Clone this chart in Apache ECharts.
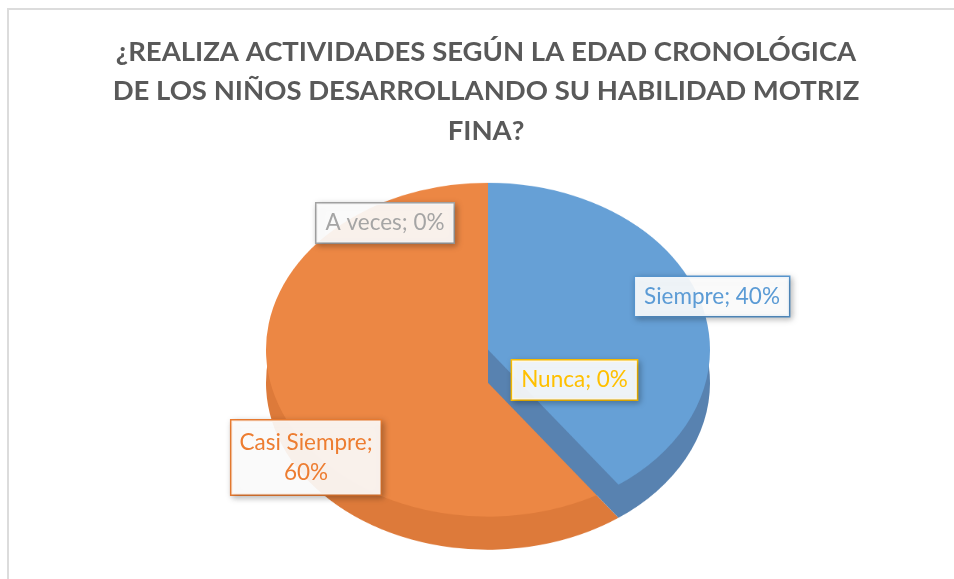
<!DOCTYPE html>
<html>
<head>
<meta charset="utf-8">
<script src="https://cdn.jsdelivr.net/npm/echarts@6/dist/echarts.min.js"></script>
<style>
  html, body { margin: 0; padding: 0; background: #ffffff; }
  #wrap { position: relative; width: 954px; height: 579px; overflow: hidden; background: #ffffff; }
  #pie { position: absolute; left: 0; top: 0; width: 954px; height: 770px; transform: scaleY(0.752); transform-origin: 0 0; }
  #overlay { position: absolute; left: 0; top: 0; width: 954px; height: 579px; }
</style>
</head>
<body>
<div id="wrap">
  <div id="pie"></div>
  <div id="overlay"></div>
</div>
<script>
// ---- data ----
const titleText = '¿REALIZA ACTIVIDADES SEGÚN LA EDAD CRONOLÓGICA\nDE LOS NIÑOS DESARROLLANDO SU HABILIDAD MOTRIZ\nFINA?';
const categories = ['Siempre', 'Casi Siempre', 'A veces', 'Nunca'];
const percentValues = [40, 60, 0, 0];

// ---- styles ----
const topColors = ['#66A0D6', '#EC8744', '#A5A5A5', '#FFC000'];
const sideColors = ['#5882B0', '#DD7A3A', '#8C8C8C', '#D9A300'];
const labelColors = ['#5B9BD5', '#ED7D31', '#A5A5A5', '#FFC000'];
const labelLines = [false, true, false, false];
const labelCenters = [[712, 296.5], [306, 457.5], [385, 223], [574.5, 380]];

const CX = 488, TOP_CY = 465, DEPTH = 44, R = 222;

function layer(cy, colors, visible, z) {
  return {
    type: 'pie',
    silent: true,
    z: z,
    center: [CX, cy],
    radius: R,
    startAngle: 90,
    clockwise: true,
    avoidLabelOverlap: false,
    label: { show: false },
    labelLine: { show: false },
    emphasis: { disabled: true },
    itemStyle: { borderWidth: 0 },
    data: categories.map((c, i) => ({
      name: c,
      value: percentValues[i],
      itemStyle: { color: visible.indexOf(i) >= 0 ? colors[i] : 'rgba(0,0,0,0)' }
    }))
  };
}

const pieChart = echarts.init(document.getElementById('pie'), null, { renderer: 'canvas' });
pieChart.setOption({
  animation: false,
  backgroundColor: 'transparent',
  series: [
    layer(TOP_CY + DEPTH, sideColors, [1, 2, 3], 1),
    layer(TOP_CY, topColors, [1, 2, 3], 2),
    layer(TOP_CY + DEPTH, sideColors, [0], 3),
    layer(TOP_CY, topColors, [0], 4)
  ]
});

const overlay = echarts.init(document.getElementById('overlay'), null, { renderer: 'canvas' });
const labelGraphics = categories.map((c, i) => ({
  type: 'text',
  x: labelCenters[i][0],
  y: labelCenters[i][1],
  silent: true,
  style: {
    text: c + ';' + (labelLines[i] ? '\n' : ' ') + percentValues[i] + '%',
    fill: labelColors[i],
    font: '22.5px Lato',
    lineHeight: labelLines[i] ? 30 : 23,
    align: 'center',
    verticalAlign: 'middle',
    backgroundColor: 'rgba(255,255,255,0.9)',
    borderColor: labelColors[i],
    borderWidth: 1.5,
    padding: labelLines[i] ? [7, 8] : [8, 9],
    shadowBlur: 6,
    shadowColor: 'rgba(0,0,0,0.25)',
    shadowOffsetX: 2,
    shadowOffsetY: 2
  }
}));

overlay.setOption({
  animation: false,
  backgroundColor: 'transparent',
  title: {
    text: titleText,
    left: 481,
    top: 27,
    textAlign: 'center',
    textStyle: {
      fontFamily: 'Lato',
      fontWeight: 'bold',
      fontSize: 27.5,
      lineHeight: 39.5,
      color: '#595959'
    }
  },
  graphic: [
    {
      type: 'rect',
      silent: true,
      shape: { x: 8, y: 9, width: 1200, height: 1200 },
      style: { fill: 'none', stroke: '#dcdcdc', lineWidth: 2 }
    }
  ].concat(labelGraphics)
});
</script>
</body>
</html>
